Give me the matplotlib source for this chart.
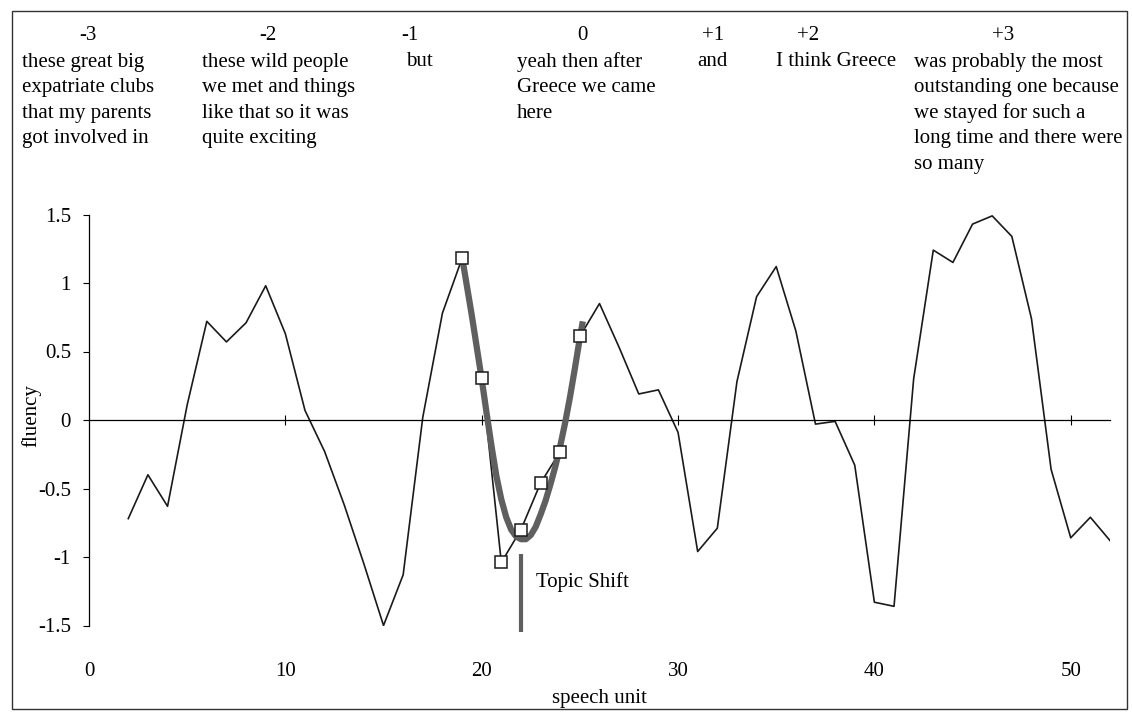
import matplotlib
matplotlib.use('Agg')
import matplotlib.pyplot as plt
from matplotlib.patches import Rectangle

plt.rcParams['font.family'] = ['Liberation Serif', 'DejaVu Serif']
plt.rcParams['axes.unicode_minus'] = False

# speech units and fluency values
units = list(range(2, 53))
fluency = [-0.72, -0.40, -0.63, 0.11, 0.72, 0.57, 0.71, 0.98, 0.63, 0.07,
           -0.23, -0.62, -1.05, -1.50, -1.13, 0.02, 0.78, 1.18, 0.31, -1.04,
           -0.80, -0.46, -0.23, 0.61, 0.85, 0.53, 0.19, 0.22, -0.09, -0.96,
           -0.79, 0.28, 0.90, 1.12, 0.65, -0.03, -0.01, -0.33, -1.33, -1.36,
           0.30, 1.24, 1.15, 1.43, 1.49, 1.34, 0.74, -0.36, -0.86, -0.71, -0.88]

# highlighted units around the topic shift
marked_units = [19, 20, 21, 22, 23, 24, 25]

# grey trend curve through the highlighted region
trend_x = [19.0, 19.5, 20.0, 20.25, 20.5, 20.75, 21.0, 21.25, 21.5, 21.75, 22.0,
           22.25, 22.5, 22.75, 23.0, 23.25, 23.5, 23.75, 24.0, 24.25, 24.5,
           24.75, 25.0, 25.15]
trend_y = [1.19, 0.76, 0.30, 0.05, -0.19, -0.41, -0.58, -0.71, -0.80, -0.85, -0.87,
           -0.87, -0.84, -0.78, -0.69, -0.59, -0.47, -0.34, -0.19, -0.02, 0.17,
           0.38, 0.60, 0.72]

shift_unit = 22
shift_range = [-0.98, -1.55]

# transcript segments above the chart
seg_labels = ['-3', '-2', '-1', '0', '+1', '+2', '+3']
seg_texts = [
    ['these great big', 'expatriate clubs', 'that my parents', 'got involved in'],
    ['these wild people', 'we met and things', 'like that so it was', 'quite exciting'],
    ['but'],
    ['yeah then after', 'Greece we came', 'here'],
    ['and'],
    ['I think Greece'],
    ['was probably the most', 'outstanding one because', 'we stayed for such a',
     'long time and there were', 'so many'],
]
label_px = [88, 268, 410, 582, 713, 808, 1003]
text_px = [22, 202, 406, 517, 697, 776, 914]

W, H = 1132, 715
fig = plt.figure(figsize=(W / 100, H / 100), dpi=100)
ax = fig.add_axes([89 / W, (H - 625.5) / H, 1021 / W, 411 / H])

ax.plot(units, fluency, color='#1a1a1a', lw=1.2, zorder=2)
ax.plot(trend_x, trend_y, color='#5f5f5f', lw=4.5, solid_capstyle='butt', zorder=3)
mk = [fluency[units.index(u)] for u in marked_units]
ax.plot(marked_units, mk, ls='none', marker='s', ms=9, mfc='white', mec='#1a1a1a',
        mew=1.1, zorder=4)
ax.plot([shift_unit, shift_unit], shift_range, color='#5f5f5f', lw=3,
        solid_capstyle='butt', zorder=3, clip_on=False)
ax.text(shift_unit + 0.75, -1.18, 'Topic Shift', fontsize=15, va='center', ha='left')

ax.set_xlim(0, 52)
ax.set_ylim(-1.5, 1.5)
ax.spines['top'].set_visible(False)
ax.spines['right'].set_visible(False)
ax.spines['bottom'].set_position(('data', 0))
ax.spines['bottom'].set_linewidth(0.9)
ax.spines['left'].set_linewidth(0.9)
ax.set_xticks([10, 20, 30, 40, 50])
ax.tick_params(axis='x', direction='inout', length=7, width=0.8, labelbottom=False)
ax.set_yticks([-1.5, -1, -0.5, 0, 0.5, 1, 1.5])
ax.set_yticklabels(['-1.5', '-1', '-0.5', '0', '0.5', '1', '1.5'])
ax.tick_params(axis='y', direction='out', length=4, width=0.8, pad=9, labelsize=15)
ax.set_ylabel('fluency', fontsize=15)
ax.yaxis.set_label_coords(-0.047, 0.51)

sec = ax.secondary_xaxis(0)
sec.set_xticks([0, 10, 20, 30, 40, 50])
sec.tick_params(length=0, pad=26, labelsize=15)
sec.spines['bottom'].set_visible(False)
sec.set_xlabel('speech unit', fontsize=15, labelpad=6)

for lab, lx, tx, lines in zip(seg_labels, label_px, text_px, seg_texts):
    fig.text(lx / W, 1 - 35 / H, lab, fontsize=15, ha='center', va='center')
    for i, line in enumerate(lines):
        fig.text(tx / W, 1 - (62 + 25.6 * i) / H, line, fontsize=15, ha='left', va='center')

fig.patches.append(Rectangle((12 / W, 1 - 709 / H), 1115 / W, 698 / H, transform=fig.transFigure,
                             fill=False, edgecolor='#333333', lw=1))

fig.savefig('out.png', dpi=100)
